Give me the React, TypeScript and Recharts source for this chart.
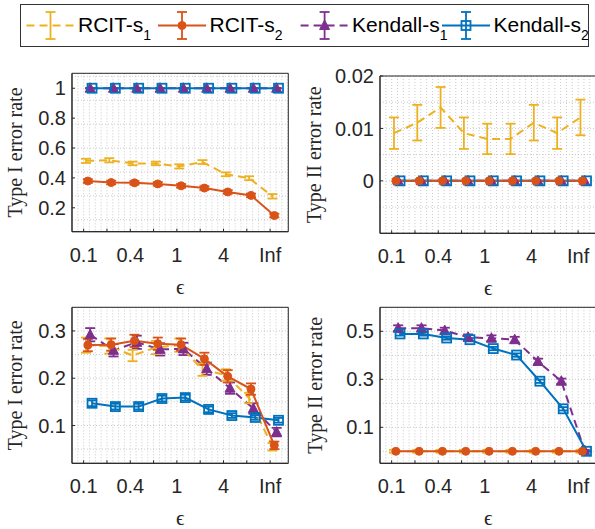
import React from "react";
import { LineChart, Line, XAxis, YAxis, ErrorBar, CartesianGrid, ReferenceArea } from "recharts";

// epsilon positions (index) and the labels shown under them
const epsTicks = [1, 2, 3, 4, 5, 6, 7, 8, 9];
const epsLabels = ["0.1", "", "0.4", "", "1", "", "4", "", "Inf"];

// top-left: Type I error rate
const aRcit1 = [0.514, 0.518, 0.497, 0.497, 0.477, 0.506, 0.424, 0.398, 0.277];
const aRcit1Err = [0.014, 0.014, 0.012, 0.012, 0.014, 0.013, 0.013, 0.013, 0.015];
const aRcit2 = [0.379, 0.369, 0.367, 0.36, 0.347, 0.332, 0.306, 0.283, 0.148];
const aRcit2Err = [0.012, 0.012, 0.012, 0.012, 0.012, 0.012, 0.012, 0.012, 0.012];
const aKen1 = [1, 1, 1, 1, 1, 1, 1, 1, 1];
const aKen1Err = [0.002, 0.002, 0.002, 0.002, 0.002, 0.002, 0.002, 0.002, 0.002];
const aKen2 = [1, 1, 1, 1, 1, 1, 1, 1, 1];
const aKen2Err = [0, 0, 0, 0, 0, 0, 0, 0, 0];

// top-right: Type II error rate
const bRcit1 = [0.0091, 0.0111, 0.014, 0.0091, 0.008, 0.008, 0.0111, 0.0091, 0.0121];
const bRcit1Err = [0.003, 0.0034, 0.0039, 0.003, 0.0029, 0.0029, 0.0034, 0.003, 0.0034];
const bRcit2 = [0, 0, 0, 0, 0, 0, 0, 0, 0];
const bKen1 = [0, 0, 0, 0, 0, 0, 0, 0, 0];
const bKen2 = [0, 0, 0, 0, 0, 0, 0, 0, 0];
const bZeroErr = [0, 0, 0, 0, 0, 0, 0, 0, 0];

// bottom-left: Type I error rate
const cRcit1 = [0.27, 0.268, 0.248, 0.265, 0.27, 0.218, 0.207, 0.158, 0.055];
const cRcit1Err = [0.016, 0.016, 0.012, 0.014, 0.014, 0.013, 0.012, 0.011, 0.008];
const cRcit2 = [0.27, 0.271, 0.279, 0.273, 0.271, 0.241, 0.204, 0.177, 0.058];
const cRcit2Err = [0.013, 0.013, 0.013, 0.013, 0.013, 0.013, 0.013, 0.012, 0.008];
const cKen1 = [0.292, 0.259, 0.276, 0.261, 0.262, 0.22, 0.179, 0.136, 0.086];
const cKen1Err = [0.014, 0.013, 0.014, 0.013, 0.013, 0.013, 0.012, 0.011, 0.009];
const cKen2 = [0.147, 0.14, 0.14, 0.157, 0.159, 0.134, 0.121, 0.117, 0.111];
const cKen2Err = [0.006, 0.006, 0.006, 0.006, 0.006, 0.006, 0.005, 0.005, 0.005];

// bottom-right: Type II error rate
const dRcit1 = [0, 0, 0, 0, 0, 0, 0, 0, 0];
const dRcit1Err = [0.006, 0.006, 0.006, 0.006, 0.006, 0.006, 0.006, 0.006, 0.006];
const dRcit2 = [0, 0, 0, 0, 0, 0, 0, 0, 0];
const dKen1 = [0.513, 0.513, 0.503, 0.475, 0.471, 0.465, 0.374, 0.292, 0.003];
const dKen1Err = [0.012, 0.012, 0.012, 0.012, 0.012, 0.012, 0.012, 0.011, 0.003];
const dKen2 = [0.489, 0.489, 0.472, 0.465, 0.428, 0.401, 0.292, 0.177, 0];
const dKen2Err = [0.007, 0.007, 0.007, 0.007, 0.007, 0.007, 0.007, 0.007, 0.002];
const dZeroErr = [0, 0, 0, 0, 0, 0, 0, 0, 0];

const series = [
  { label: "RCIT-s", sub: "1", color: "#EDB120", dash: "8 5", marker: "none", offset: 0.1 },
  { label: "RCIT-s", sub: "2", color: "#D95319", dash: undefined, marker: "circle", offset: 0.18 },
  { label: "Kendall-s", sub: "1", color: "#7E2F8E", dash: "8 5", marker: "triangle", offset: 0.28 },
  { label: "Kendall-s", sub: "2", color: "#0072BD", dash: undefined, marker: "square", offset: 0.36 },
];
const drawOrder = [2, 3, 0, 1];

const AXIS = "#262626";
const SANS = "'Liberation Sans', Arial, Helvetica, sans-serif";
const SERIF = "'Liberation Serif', 'Times New Roman', 'DejaVu Serif', serif";
const X_DOMAIN: [number, number] = [0.5, 9.78];

const steps = (a: number, b: number, s: number) => {
  const out: number[] = [];
  for (let v = a; v <= b + 1e-9; v += s) out.push(+v.toFixed(6));
  return out;
};

const rows = (vals: number[], errs: number[], offset: number) =>
  vals.map((v, i) => ({ x: epsTicks[i] + offset, y: v, e: errs[i] }));

function Marker({ kind, cx, cy, color }: any) {
  if (cx == null || cy == null) return null;
  if (kind === "circle") return <circle cx={cx} cy={cy} r={4} fill={color} stroke={color} />;
  if (kind === "triangle")
    return (
      <polygon
        points={`${cx},${cy - 5.5} ${cx - 5},${cy + 4} ${cx + 5},${cy + 4}`}
        fill={color}
        stroke={color}
        strokeWidth={1}
      />
    );
  if (kind === "square")
    return <rect x={cx - 4.5} y={cy - 4.5} width={9} height={9} fill="none" stroke={color} strokeWidth={1.8} />;
  return null;
}

const panels = [
  {
    left: 0, top: 60, yW: 72, plotTop: 73.3, plotBottom: 231.7, domain: [0.04, 1.1], ticks: [0.2, 0.4, 0.6, 0.8, 1],
    minor: 0.04, yLabel: "Type I error rate", labelGap: 56.5,
    vals: [aRcit1, aRcit2, aKen1, aKen2], errs: [aRcit1Err, aRcit2Err, aKen1Err, aKen2Err],
  },
  {
    left: 290, top: 60, yW: 90, plotTop: 76, plotBottom: 233.3, domain: [-0.01, 0.02], ticks: [0, 0.01, 0.02],
    minor: 0.001, yLabel: "Type II error rate", labelGap: 65.5,
    vals: [bRcit1, bRcit2, bKen1, bKen2], errs: [bRcit1Err, bZeroErr, bZeroErr, bZeroErr],
  },
  {
    left: 0, top: 290, yW: 72, plotTop: 307.3, plotBottom: 463.3, domain: [0.02, 0.35], ticks: [0.1, 0.2, 0.3],
    minor: 0.01, yLabel: "Type I error rate", labelGap: 56.5,
    vals: [cRcit1, cRcit2, cKen1, cKen2], errs: [cRcit1Err, cRcit2Err, cKen1Err, cKen2Err],
  },
  {
    left: 290, top: 290, yW: 90, plotTop: 307.3, plotBottom: 463.3, domain: [-0.05, 0.6], ticks: [0.1, 0.3, 0.5],
    minor: 0.02, yLabel: "Type II error rate", labelGap: 64.5,
    vals: [dRcit1, dRcit2, dKen1, dKen2], errs: [dRcit1Err, dZeroErr, dKen1Err, dKen2Err],
  },
];

const PLOT_W = 216.3;
const CH_H = 240;
const X_H = 50;

function Panel({ p }: any) {
  const [y0, y1] = p.domain;
  const minorY = steps(Math.ceil(y0 / p.minor) * p.minor, y1, p.minor);
  const minorX = steps(0.75, 9.75, 0.25);
  const mTop = p.plotTop - p.top;
  const mBottom = CH_H - (p.plotBottom - p.top) - X_H;
  const width = p.yW + PLOT_W + 12;
  return (
    <div style={{ position: "absolute", left: p.left, top: p.top }}>
      <LineChart width={width} height={CH_H} margin={{ top: mTop, right: 12, bottom: mBottom, left: 0 }}>
        <CartesianGrid
          horizontalValues={minorY}
          verticalValues={minorX}
          stroke="#bdbdbd"
          strokeDasharray="1 2"
          strokeWidth={0.8}
        />
        <XAxis
          type="number"
          dataKey="x"
          domain={X_DOMAIN}
          ticks={epsTicks}
          interval={0}
          allowDataOverflow
          height={X_H}
          tickSize={-3}
          tickMargin={19}
          tickFormatter={(v: number) => epsLabels[Math.round(v) - 1]}
          stroke={AXIS}
          tick={{ fill: AXIS, fontSize: 20, fontFamily: SANS }}
          label={(lp: any) => {
            const vb = lp.viewBox;
            return (
              <text x={vb.x + vb.width / 2} y={vb.y + 62} textAnchor="middle" fontSize={21} fontFamily={SERIF} fill={AXIS}>
                ϵ
              </text>
            );
          }}
        />
        <YAxis
          type="number"
          domain={p.domain}
          ticks={p.ticks}
          allowDataOverflow
          width={p.yW}
          tickSize={-3}
          tickMargin={9}
          stroke={AXIS}
          tick={{ fill: AXIS, fontSize: 20, fontFamily: SANS }}
          label={(lp: any) => {
            const vb = lp.viewBox;
            const cx = vb.x + vb.width - p.labelGap;
            const cy = vb.y + vb.height / 2;
            return (
              <text
                x={cx}
                y={cy}
                transform={`rotate(-90 ${cx} ${cy})`}
                textAnchor="middle"
                dominantBaseline="central"
                fontSize={20}
                fontFamily={SERIF}
                fill={AXIS}
              >
                {p.yLabel}
              </text>
            );
          }}
        />
        {drawOrder.map((si) => {
          const s = series[si];
          return (
            <Line
              key={si}
              data={rows(p.vals[si], p.errs[si], s.offset)}
              dataKey="y"
              stroke={s.color}
              strokeWidth={2}
              strokeDasharray={s.dash}
              isAnimationActive={false}
              dot={(dp: any) => <Marker key={dp.index} kind={s.marker} cx={dp.cx} cy={dp.cy} color={s.color} />}
              activeDot={false}
            >
              <ErrorBar dataKey="e" direction="y" width={5} stroke={s.color} strokeWidth={1.8} isAnimationActive={false} />
            </Line>
          );
        })}
        <ReferenceArea x1={X_DOMAIN[0]} x2={X_DOMAIN[1]} y1={y0} y2={y1} fill="none" stroke={AXIS} strokeWidth={1} ifOverflow="visible" />
      </LineChart>
    </div>
  );
}

const legendStart = [26.5, 158, 300.6, 442];

function LegendBox() {
  return (
    <svg width={595} height={50} style={{ position: "absolute", left: 0, top: 0 }}>
      <rect x={20.5} y={4.5} width={568} height={42} fill="#fff" stroke="#333" strokeWidth={1} />
      {series.map((s, i) => {
        const x0 = legendStart[i];
        const cx = x0 + 24;
        const cy = 25.5;
        return (
          <g key={i}>
            <line x1={x0} y1={cy} x2={x0 + 48} y2={cy} stroke={s.color} strokeWidth={2} strokeDasharray={s.dash} />
            <line x1={cx} y1={12} x2={cx} y2={39} stroke={s.color} strokeWidth={1.8} />
            <line x1={cx - 5} y1={12} x2={cx + 5} y2={12} stroke={s.color} strokeWidth={1.8} />
            <line x1={cx - 5} y1={39} x2={cx + 5} y2={39} stroke={s.color} strokeWidth={1.8} />
            <Marker kind={s.marker} cx={cx} cy={cy} color={s.color} />
            <text x={x0 + 51.5} y={32} fontSize={21} fontFamily={SANS} fill="#000">
              {s.label}
              <tspan fontSize={14} dy={8}>
                {s.sub}
              </tspan>
            </text>
          </g>
        );
      })}
    </svg>
  );
}

export default function App() {
  return (
    <div
      style={{
        position: "absolute",
        left: 0,
        top: 0,
        width: 595,
        height: 529,
        overflow: "hidden",
        background: "#fff",
      }}
    >
      {panels.map((p, i) => (
        <Panel key={i} p={p} />
      ))}
      <LegendBox />
    </div>
  );
}
